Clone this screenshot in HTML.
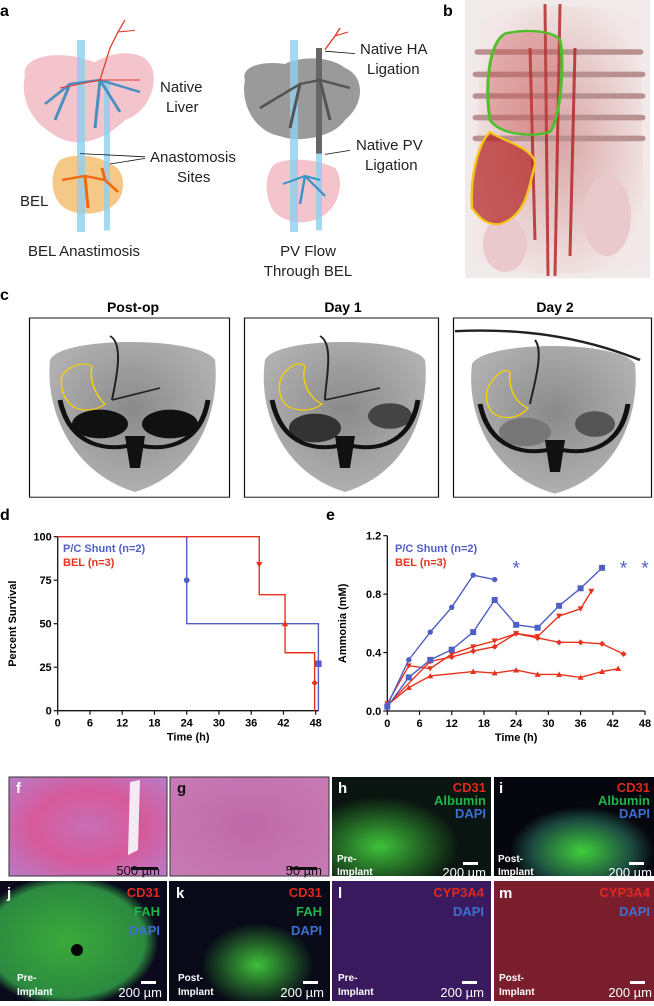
<!DOCTYPE html>
<html><head><meta charset="utf-8">
<style>
html,body{margin:0;padding:0;background:#fff;}
body{width:654px;height:1001px;overflow:hidden;position:relative;font-family:"Liberation Sans",Arial,sans-serif;}
svg text{font-family:"Liberation Sans",Arial,sans-serif;}
</style></head>
<body>
<svg id="fig" width="654" height="1001" viewBox="0 0 654 1001" xmlns="http://www.w3.org/2000/svg">
<defs>
  <radialGradient id="he1" cx="50%" cy="50%" r="70%"><stop offset="0" stop-color="#c86fb6"/><stop offset="0.5" stop-color="#d65a9a"/><stop offset="1" stop-color="#b97bc8"/></radialGradient>
  <radialGradient id="he2" cx="50%" cy="50%" r="70%"><stop offset="0" stop-color="#c06aa8"/><stop offset="1" stop-color="#c77bb5"/></radialGradient>
  <radialGradient id="grnH" cx="30%" cy="70%" r="50%"><stop offset="0" stop-color="#3ec23a"/><stop offset="1" stop-color="#0a1410"/></radialGradient>
  <radialGradient id="grnI" cx="55%" cy="75%" r="45%"><stop offset="0" stop-color="#3fcf3a"/><stop offset="0.7" stop-color="#1c4a40"/><stop offset="1" stop-color="#05060e"/></radialGradient>
  <radialGradient id="grnJ" cx="40%" cy="50%" r="55%"><stop offset="0" stop-color="#3aaa3a"/><stop offset="0.85" stop-color="#2c8a40"/><stop offset="1" stop-color="#0a0a1c"/></radialGradient>
  <radialGradient id="grnK" cx="55%" cy="70%" r="35%"><stop offset="0" stop-color="#3fc03a"/><stop offset="1" stop-color="#080a18"/></radialGradient>
  <radialGradient id="ctB" cx="50%" cy="45%" r="55%"><stop offset="0" stop-color="#8a8a8a"/><stop offset="1" stop-color="#b0b0b0"/></radialGradient>
  <radialGradient id="bodyB" cx="50%" cy="50%" r="55%"><stop offset="0" stop-color="#d9a5a5"/><stop offset="1" stop-color="#f2e6e6"/></radialGradient>
</defs>

<!-- Top shapes, vertically scaled -->
<g transform="scale(1,0.8)">
<g>
  <path d="M25,95 C20,70 60,60 95,78 C110,65 140,60 150,80 C160,100 150,140 125,150 C105,175 75,190 50,165 C30,150 20,120 25,95Z" fill="#f3c4cc"/>
  <path d="M60,200 C75,190 100,195 110,205 C125,210 128,240 115,255 C100,272 70,270 60,255 C50,240 50,215 60,200Z" fill="#f5c27a" opacity="0.9"/>
  <rect x="77" y="50" width="8" height="240" fill="#8fd0ee" opacity="0.8"/>
  <rect x="104" y="100" width="6" height="188" fill="#8fd0ee" opacity="0.8"/>
  <path d="M45,130 L70,105 L100,100 L140,115 M100,100 L95,160 M70,105 L55,150 M100,100 L120,140" stroke="#4a8fc0" stroke-width="3" fill="none"/>
  <path d="M110,60 L118,40 L135,38 M118,40 L125,25 M100,100 L110,60 M60,110 L100,100 L140,100" stroke="#e03c2c" stroke-width="1.3" fill="none"/>
  <path d="M62,225 L85,220 L105,225 M85,220 L88,260 M102,210 L105,225 L118,240" stroke="#f06a10" stroke-width="3" fill="none"/>
  <path d="M80,192 L145,196 M110,205 L145,198" stroke="#111" stroke-width="1"/>
  <path d="M245,100 C240,85 260,75 285,80 C300,70 330,70 345,85 C365,95 365,130 345,150 C335,170 300,180 280,170 C255,165 240,130 245,100Z" fill="#9a9a9a"/>
  <path d="M275,205 C290,195 320,200 335,210 C345,225 340,260 320,272 C300,285 275,275 270,255 C265,240 265,215 275,205Z" fill="#f3c4cc"/>
  <rect x="290" y="50" width="8" height="240" fill="#8fd0ee" opacity="0.8"/>
  <rect x="316" y="60" width="6" height="228" fill="#8fd0ee" opacity="0.8"/>
  <rect x="316" y="60" width="6" height="132" fill="#666"/>
  <path d="M260,135 L300,105 L320,100 L350,110 M300,105 L290,160 M320,100 L330,150" stroke="#555" stroke-width="3" fill="none"/>
  <path d="M325,62 L335,45 L348,40 M335,45 L340,35" stroke="#e03c2c" stroke-width="1.5" fill="none"/>
  <path d="M283,230 L305,220 L320,225 M305,220 L300,255 M305,220 L325,245" stroke="#3a95c8" stroke-width="2.5" fill="none"/>
  <path d="M325,64 L355,67 M325,193 L350,188" stroke="#111" stroke-width="1"/>
</g>
<g>
  <rect x="465" y="0" width="185" height="348" fill="#f1eaea"/>
  <path d="M480,30 C500,0 620,0 640,30 L645,320 C620,350 500,350 475,320Z" fill="url(#bodyB)"/>
  <g stroke="#b89090" stroke-width="7" stroke-linecap="round">
    <line x1="478" y1="65" x2="640" y2="65"/><line x1="476" y1="93" x2="642" y2="93"/><line x1="476" y1="120" x2="642" y2="120"/><line x1="476" y1="147" x2="642" y2="147"/><line x1="476" y1="173" x2="642" y2="173"/>
  </g>
  <ellipse cx="505" cy="305" rx="22" ry="35" fill="#e9c9cc"/>
  <ellipse cx="607" cy="270" rx="24" ry="50" fill="#e9c9cc"/>
  <path d="M545,5 L548,345 M560,5 L555,345 M530,60 L535,300 M575,60 L570,320" stroke="#b02020" stroke-width="3" fill="none" opacity="0.8"/>
  <path d="M505,42 C530,35 555,40 560,50 C565,80 560,150 550,165 C530,172 500,168 490,150 C485,110 488,55 505,42Z" fill="#c84a4a" fill-opacity="0.35" stroke="#4cbf2a" stroke-width="3"/>
  <path d="M490,165 C500,175 535,185 535,205 C528,240 525,270 500,280 C485,282 478,270 472,260 C470,220 478,180 490,165Z" fill="#b02020" fill-opacity="0.7" stroke="#f5c518" stroke-width="2.5"/>
</g>
<g>
  <g>
    <rect x="29.5" y="397.5" width="200" height="224" fill="#fff" stroke="#111" stroke-width="1.2"/>
    <path d="M50,450 C60,420 200,420 215,450 C220,510 200,590 135,615 C70,590 45,510 50,450Z" fill="url(#ctB)"/>
    <ellipse cx="100" cy="530" rx="28" ry="18" fill="#111"/><ellipse cx="170" cy="530" rx="28" ry="18" fill="#111"/>
    <path d="M60,500 C70,560 110,565 135,555 C160,565 200,560 208,500" stroke="#111" stroke-width="5" fill="none"/>
    <path d="M125,545 L145,545 L140,585 L130,585Z" fill="#111"/>
    <path d="M110,420 C125,430 115,480 112,500 M112,500 L160,485" stroke="#222" stroke-width="2" fill="none"/>
    <path d="M62,470 C70,455 85,452 92,458 C88,480 100,500 105,505 C95,515 78,515 70,505 C62,495 60,480 62,470Z" fill="none" stroke="#f5d000" stroke-width="1.5"/>
  </g>
  <g>
    <rect x="244.5" y="397.5" width="194" height="224" fill="#fff" stroke="#111" stroke-width="1.2"/>
    <path d="M265,450 C275,420 410,420 425,450 C430,510 410,590 345,615 C280,590 258,510 265,450Z" fill="url(#ctB)"/>
    <ellipse cx="315" cy="535" rx="26" ry="18" fill="#333"/><ellipse cx="390" cy="520" rx="22" ry="16" fill="#444"/>
    <path d="M272,500 C282,560 320,565 345,555 C370,565 410,560 418,500" stroke="#111" stroke-width="5" fill="none"/>
    <path d="M335,545 L355,545 L350,585 L340,585Z" fill="#111"/>
    <path d="M320,420 C335,430 325,480 325,500 M325,500 L380,485" stroke="#222" stroke-width="2" fill="none"/>
    <path d="M282,470 C290,455 300,452 305,458 C300,480 312,500 322,505 C312,515 293,515 285,505 C278,495 278,480 282,470Z" fill="none" stroke="#f5d000" stroke-width="1.5"/>
  </g>
  <g>
    <rect x="453.5" y="397.5" width="198" height="224" fill="#fff" stroke="#111" stroke-width="1.2"/>
    <path d="M472,455 C485,425 620,425 635,455 C640,515 620,595 555,617 C490,595 466,515 472,455Z" fill="url(#ctB)"/>
    <path d="M455,414 C520,410 580,420 640,450" stroke="#222" stroke-width="3" fill="none"/>
    <ellipse cx="525" cy="540" rx="26" ry="18" fill="#777"/><ellipse cx="595" cy="530" rx="20" ry="16" fill="#555"/>
    <path d="M480,505 C490,565 530,570 555,560 C580,570 620,565 628,505" stroke="#111" stroke-width="5" fill="none"/>
    <path d="M545,550 L565,550 L560,590 L550,590Z" fill="#111"/>
    <path d="M535,425 C545,440 532,490 530,505" stroke="#222" stroke-width="2" fill="none"/>
    <path d="M490,480 C498,465 505,460 510,465 C508,490 518,505 528,510 C518,525 500,525 492,515 C485,505 485,490 490,480Z" fill="none" stroke="#f5d000" stroke-width="1.5"/>
  </g>
</g>
</g>

<!-- Top texts -->
<g>
  <text x="0" y="16" font-size="16" font-weight="bold">a</text>
  <text x="160" y="92" font-size="15" fill="#222"><tspan x="160">Native</tspan><tspan x="166" dy="20">Liver</tspan></text>
  <text x="150" y="162" font-size="15" fill="#222"><tspan x="150">Anastomosis</tspan><tspan x="177" dy="20">Sites</tspan></text>
  <text x="20" y="206" font-size="15" fill="#222">BEL</text>
  <text x="28" y="256" font-size="15" fill="#222">BEL Anastimosis</text>
  <text x="360" y="54" font-size="15" fill="#222"><tspan x="360">Native HA</tspan><tspan x="367" dy="20">Ligation</tspan></text>
  <text x="356" y="150" font-size="15" fill="#222"><tspan x="356">Native PV</tspan><tspan x="365" dy="20">Ligation</tspan></text>
  <text x="308" y="256" font-size="15" fill="#222" text-anchor="middle"><tspan x="308">PV Flow</tspan><tspan x="308" dy="20">Through BEL</tspan></text>
  <text x="443" y="16" font-size="16" font-weight="bold">b</text>
  <text x="0" y="300" font-size="16" font-weight="bold">c</text>
  <text x="133" y="312" font-size="14" font-weight="bold" text-anchor="middle">Post-op</text>
  <text x="343" y="312" font-size="14" font-weight="bold" text-anchor="middle">Day 1</text>
  <text x="555" y="312" font-size="14" font-weight="bold" text-anchor="middle">Day 2</text>
</g>

<!-- Panel d -->
<g id="chartD">
  <text x="0" y="520" font-size="16" font-weight="bold">d</text>
</g>
<!-- Panel e -->
<g id="chartE">
  <text x="326" y="520" font-size="16" font-weight="bold">e</text>
</g>

<!-- Bottom micrographs -->
<g>
  <g>
    <rect x="9" y="777" width="158" height="99" fill="url(#he1)" stroke="#333"/>
    <path d="M130,782 L140,780 L138,850 L128,855Z" fill="#f4eaf4"/>
    <text x="16" y="793" font-size="15" font-weight="bold" fill="#fff">f</text>
    <rect x="131" y="867" width="27" height="3" fill="#111"/>
    <text x="160" y="875" font-size="13" text-anchor="end" fill="#111">500 µm</text>
  </g>
  <g>
    <rect x="170" y="777" width="159" height="99" fill="url(#he2)" stroke="#333"/>
    <text x="177" y="793" font-size="15" font-weight="bold" fill="#111">g</text>
    <rect x="290" y="867" width="27" height="3" fill="#111"/>
    <text x="322" y="875" font-size="13" text-anchor="end" fill="#111">50 µm</text>
  </g>
  <g>
    <rect x="332" y="777" width="159" height="99" fill="url(#grnH)"/>
    <text x="338" y="793" font-size="15" font-weight="bold" fill="#fff">h</text>
    <text x="486" y="792" font-size="13" font-weight="bold" text-anchor="end" fill="#e0281e">CD31</text>
    <text x="486" y="805" font-size="13" font-weight="bold" text-anchor="end" fill="#1fb54a">Albumin</text>
    <text x="486" y="818" font-size="13" font-weight="bold" text-anchor="end" fill="#3b6fd0">DAPI</text>
    <text x="337" y="862" font-size="10" font-weight="bold" fill="#fff"><tspan x="337">Pre-</tspan><tspan x="337" dy="13">Implant</tspan></text>
    <rect x="463" y="862" width="15" height="3" fill="#fff"/>
    <text x="486" y="877" font-size="13" text-anchor="end" fill="#fff">200 µm</text>
  </g>
  <g>
    <rect x="494" y="777" width="160" height="99" fill="url(#grnI)"/>
    <text x="499" y="793" font-size="15" font-weight="bold" fill="#fff">i</text>
    <text x="650" y="792" font-size="13" font-weight="bold" text-anchor="end" fill="#e0281e">CD31</text>
    <text x="650" y="805" font-size="13" font-weight="bold" text-anchor="end" fill="#1fb54a">Albumin</text>
    <text x="650" y="818" font-size="13" font-weight="bold" text-anchor="end" fill="#3b6fd0">DAPI</text>
    <text x="498" y="862" font-size="10" font-weight="bold" fill="#fff"><tspan x="498">Post-</tspan><tspan x="498" dy="13">Implant</tspan></text>
    <rect x="629" y="862" width="15" height="3" fill="#fff"/>
    <text x="652" y="877" font-size="13" text-anchor="end" fill="#fff">200 µm</text>
  </g>
  <g>
    <rect x="0" y="881" width="167" height="120" fill="url(#grnJ)"/>
    <circle cx="77" cy="950" r="6" fill="#050505"/>
    <text x="7" y="898" font-size="15" font-weight="bold" fill="#fff">j</text>
    <text x="160" y="897" font-size="13" font-weight="bold" text-anchor="end" fill="#e0281e">CD31</text>
    <text x="160" y="916" font-size="13" font-weight="bold" text-anchor="end" fill="#1fb54a">FAH</text>
    <text x="160" y="935" font-size="13" font-weight="bold" text-anchor="end" fill="#3b6fd0">DAPI</text>
    <text x="17" y="981" font-size="10" font-weight="bold" fill="#fff"><tspan x="17">Pre-</tspan><tspan x="17" dy="14">Implant</tspan></text>
    <rect x="141" y="981" width="15" height="3" fill="#fff"/>
    <text x="162" y="997" font-size="13" text-anchor="end" fill="#fff">200 µm</text>
  </g>
  <g>
    <rect x="169" y="881" width="161" height="120" fill="url(#grnK)"/>
    <text x="176" y="898" font-size="15" font-weight="bold" fill="#fff">k</text>
    <text x="322" y="897" font-size="13" font-weight="bold" text-anchor="end" fill="#e0281e">CD31</text>
    <text x="322" y="916" font-size="13" font-weight="bold" text-anchor="end" fill="#1fb54a">FAH</text>
    <text x="322" y="935" font-size="13" font-weight="bold" text-anchor="end" fill="#3b6fd0">DAPI</text>
    <text x="178" y="981" font-size="10" font-weight="bold" fill="#fff"><tspan x="178">Post-</tspan><tspan x="178" dy="14">Implant</tspan></text>
    <rect x="303" y="981" width="15" height="3" fill="#fff"/>
    <text x="324" y="997" font-size="13" text-anchor="end" fill="#fff">200 µm</text>
  </g>
  <g>
    <rect x="332" y="881" width="159" height="120" fill="#3a1a5e"/>
    <text x="338" y="898" font-size="15" font-weight="bold" fill="#fff">l</text>
    <text x="484" y="897" font-size="13" font-weight="bold" text-anchor="end" fill="#e0281e">CYP3A4</text>
    <text x="484" y="916" font-size="13" font-weight="bold" text-anchor="end" fill="#3b6fd0">DAPI</text>
    <text x="338" y="981" font-size="10" font-weight="bold" fill="#fff"><tspan x="338">Pre-</tspan><tspan x="338" dy="14">Implant</tspan></text>
    <rect x="462" y="981" width="15" height="3" fill="#fff"/>
    <text x="484" y="997" font-size="13" text-anchor="end" fill="#fff">200 µm</text>
  </g>
  <g>
    <rect x="494" y="881" width="160" height="120" fill="#7a1d2c"/>
    <text x="499" y="898" font-size="15" font-weight="bold" fill="#fff">m</text>
    <text x="650" y="897" font-size="13" font-weight="bold" text-anchor="end" fill="#e0281e">CYP3A4</text>
    <text x="650" y="916" font-size="13" font-weight="bold" text-anchor="end" fill="#3b6fd0">DAPI</text>
    <text x="499" y="981" font-size="10" font-weight="bold" fill="#fff"><tspan x="499">Post-</tspan><tspan x="499" dy="14">Implant</tspan></text>
    <rect x="630" y="981" width="15" height="3" fill="#fff"/>
    <text x="652" y="997" font-size="13" text-anchor="end" fill="#fff">200 µm</text>
  </g>
</g>
</svg>

<script>
// ---- Panel d data ----
const survTicksX = [0,6,12,18,24,30,36,42,48];
const survTicksY = [0,25,50,75,100];
const shuntStepT = [0,24,48.5,48.5];
const shuntStepV = [100,50,50,0];
const belStepT = [0,37.5,42.3,47.8,47.8];
const belStepV = [100,66.7,33.3,33.3,0];
const shuntCensorT = [24,48.5];
const shuntCensorV = [75,27];
const belCensorT = [37.5,42.3,47.8];
const belCensorV = [84,50,16];

// ---- Panel e data ----
const ammTicksX = [0,6,12,18,24,30,36,42,48];
const ammTicksY = [0,0.4,0.8,1.2];
const shunt1T = [0,4,8,12,16,20];
const shunt1V = [0.04,0.35,0.54,0.71,0.93,0.90];
const shunt1DeathT = [24];
const shunt1DeathV = [0.99];
const shunt2T = [0,4,8,12,16,20,24,28,32,36,40];
const shunt2V = [0.03,0.23,0.35,0.42,0.54,0.76,0.59,0.57,0.72,0.84,0.98];
const shunt2DeathT = [44,48];
const shunt2DeathV = [0.99,0.99];
const bel1T = [0,4,8,12,16,20,24,28,32,36,38];
const bel1V = [0.05,0.31,0.29,0.39,0.44,0.48,0.53,0.51,0.65,0.70,0.82];
const bel2T = [0,8,12,16,20,24,28,32,36,40,44];
const bel2V = [0.04,0.34,0.37,0.41,0.44,0.53,0.50,0.47,0.47,0.46,0.39];
const bel3T = [0,4,8,16,20,24,28,32,36,40,43];
const bel3V = [0.04,0.16,0.24,0.27,0.26,0.28,0.25,0.25,0.23,0.27,0.29];

const NS='http://www.w3.org/2000/svg';
const BLUE='#4f5fc4', RED='#e8321e';
function mk(parent, tag, attrs){const e=document.createElementNS(NS,tag);for(const k in attrs)e.setAttribute(k,attrs[k]);parent.appendChild(e);return e;}

function marker(g,shape,x,y,color,s){
  let e;
  if(shape==='circle'){e=mk(g,'circle',{cx:x,cy:y,r:s*0.9,fill:color});}
  else if(shape==='square'){e=mk(g,'rect',{x:x-s,y:y-s,width:2*s,height:2*s,fill:color});}
  else if(shape==='up'){e=mk(g,'path',{d:`M${x},${y-s} L${x+s},${y+s*0.8} L${x-s},${y+s*0.8}Z`,fill:color});}
  else if(shape==='down'){e=mk(g,'path',{d:`M${x},${y+s} L${x+s},${y-s*0.8} L${x-s},${y-s*0.8}Z`,fill:color});}
  else if(shape==='diamond'){e=mk(g,'path',{d:`M${x},${y-s} L${x+s},${y} L${x},${y+s} L${x-s},${y}Z`,fill:color});}
  else if(shape==='star'){e=mk(g,'text',{x:x,y:y+8,'font-size':19,'text-anchor':'middle',fill:color});e.textContent='*';}
  return e;
}

function axes(g,sx,sy,tx,ty,x0,x1,y0,y1,fmt,ytitle,tyCenter){
  const ax=mk(g,'g',{});
  
  
  mk(ax,'line',{x1:x0,y1:y0,x2:x0,y2:y1,stroke:'#111','stroke-width':1.3});
  mk(ax,'line',{x1:x0,y1:y0,x2:x1,y2:y0,stroke:'#111','stroke-width':1.3});
  tx.forEach(t=>{const x=sx(t);mk(ax,'line',{x1:x,y1:y0,x2:x,y2:y0+4,stroke:'#111','stroke-width':1.2});
    const l=mk(ax,'text',{x:x,y:y0+16,'font-size':11,'font-weight':'bold','text-anchor':'middle'});l.textContent=t;
    
    });
  ty.forEach(t=>{const y=sy(t);mk(ax,'line',{x1:x0-4,y1:y,x2:x0,y2:y,stroke:'#111','stroke-width':1.2});
    const l=mk(ax,'text',{x:x0-6,y:y+4,'font-size':11,'font-weight':'bold','text-anchor':'end'});l.textContent=fmt(t);
    
    });
  const xt=mk(ax,'text',{x:(x0+x1)/2,y:y0+30,'font-size':11,'font-weight':'bold','text-anchor':'middle'});xt.textContent='Time (h)';
  
  
  const yt=mk(ax,'text',{x:0,y:0,'font-size':11,'font-weight':'bold','text-anchor':'middle',transform:`translate(${tyCenter},${(y0+y1)/2}) rotate(-90)`});yt.textContent=ytitle;
  
  
}

function legend(g,x,y){
  const a=mk(g,'text',{x:x,y:y,'font-size':11,'font-weight':'bold',fill:BLUE});a.textContent='P/C Shunt (n=2)';
  
  
  const b=mk(g,'text',{x:x,y:y+14,'font-size':11,'font-weight':'bold',fill:RED});b.textContent='BEL (n=3)';
  
  
}

// Chart d
(function(){
  const g=document.getElementById('chartD');
  const x0=57.7,x1=315.7,y0=710.7,y1=536.7;
  const sx=t=>x0+(x1-x0)*t/48, sy=v=>y0-(y0-y1)*v/100;
  axes(g,sx,sy,survTicksX,survTicksY,x0,x1+3,y0,y1,v=>v,'Percent Survival',16);
  function step(T,V,color,name){
    let d=`M${sx(T[0])},${sy(V[0])}`;
    for(let i=1;i<T.length;i++){d+=` L${sx(T[i])},${sy(V[i-1])} L${sx(T[i])},${sy(V[i])}`;}
    const p=mk(g,'path',{d:d,fill:'none',stroke:color,'stroke-width':1.4});
    
    
  }
  step(shuntStepT,shuntStepV,BLUE,'shunt-survival-line');
  step(belStepT,belStepV,RED,'bel-survival-line');
  const shS=['circle','square'], beS=['down','up','diamond'];
  shuntCensorT.forEach((t,i)=>{const m=marker(g,shS[i],sx(t),sy(shuntCensorV[i]),BLUE,3.2);
    
    });
  belCensorT.forEach((t,i)=>{const m=marker(g,beS[i],sx(t),sy(belCensorV[i]),RED,3.2);
    
    });
  legend(g,63,552);
})();

// Chart e
(function(){
  const g=document.getElementById('chartE');
  const x0=387.3,x1=645,y0=711,y1=535.7;
  const sx=t=>x0+(x1-x0)*t/48, sy=v=>y0-(y0-y1)*v/1.2;
  axes(g,sx,sy,ammTicksX,ammTicksY,x0,x1,y0,y1,v=>v.toFixed(1),'Ammonia (mM)',346);
  function series(T,V,color,shape,name){
    const d=T.map((t,i)=>(i?'L':'M')+sx(t)+','+sy(V[i])).join(' ');
    const p=mk(g,'path',{d:d,fill:'none',stroke:color,'stroke-width':1.4});
    
    
    T.forEach((t,i)=>{const m=marker(g,shape,sx(t),sy(V[i]),color,3);
      
      });
  }
  series(bel3T,bel3V,RED,'up','bel-3');
  series(bel2T,bel2V,RED,'diamond','bel-2');
  series(bel1T,bel1V,RED,'down','bel-1');
  series(shunt2T,shunt2V,BLUE,'square','shunt-2');
  series(shunt1T,shunt1V,BLUE,'circle','shunt-1');
  shunt1DeathT.forEach((t,i)=>{const m=marker(g,'star',sx(t),sy(shunt1DeathV[i]),BLUE,3);
    
    });
  shunt2DeathT.forEach((t,i)=>{const m=marker(g,'star',sx(t),sy(shunt2DeathV[i]),BLUE,3);
    
    });
  legend(g,395,552);
})();
</script>
</body></html>
